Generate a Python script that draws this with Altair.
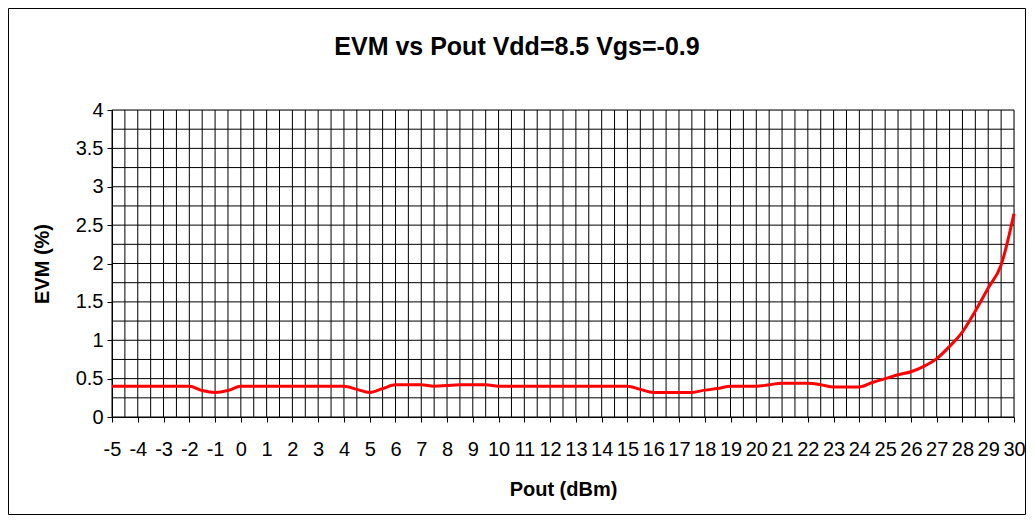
import altair as alt
import pandas as pd

chart_title = "EVM vs Pout Vdd=8.5 Vgs=-0.9"
x_title = "Pout (dBm)"
y_title = "EVM (%)"

# Pout in 0.5 dBm steps from -5 to 30
pout = [i / 2 for i in range(-10, 61)]
evm = [
    0.40, 0.40, 0.40, 0.40, 0.40, 0.40, 0.40,   # -5 .. -2
    0.345, 0.32, 0.345,                         # -1.5 .. -0.5
    0.40, 0.40, 0.40, 0.40, 0.40, 0.40, 0.40, 0.40, 0.40,  # 0 .. 4
    0.36, 0.32, 0.37,                           # 4.5 .. 5.5
    0.42, 0.42, 0.42, 0.40, 0.41, 0.42, 0.42, 0.42,  # 6 .. 9.5
    0.40, 0.40, 0.40, 0.40, 0.40, 0.40, 0.40, 0.40, 0.40, 0.40, 0.40,  # 10 .. 15
    0.36, 0.32, 0.32, 0.32, 0.32,               # 15.5 .. 17.5
    0.35, 0.37, 0.40, 0.40, 0.40,               # 18 .. 20
    0.42, 0.44, 0.44, 0.44, 0.42,               # 20.5 .. 22.5
    0.39, 0.39, 0.39,                           # 23 .. 24
    0.45, 0.50, 0.55, 0.59, 0.66, 0.76, 0.92,   # 24.5 .. 27.5
    1.11, 1.38, 1.68, 1.98, 2.65,               # 28 .. 30
]

x_ticks = list(range(-5, 31))
y_ticks = [0, 0.5, 1, 1.5, 2, 2.5, 3, 3.5, 4]
x_grid = [i / 2 for i in range(-10, 61)]
y_grid = [i / 4 for i in range(0, 17)]

FONT = "Liberation Sans"
W, H = 902, 307
PAD_L, PAD_T, PAD_R, PAD_B = 104, 102, 12, 98

xscale = alt.Scale(domain=[-5, 30], nice=False, zero=False)
yscale = alt.Scale(domain=[0, 4], nice=False)

x_axis = alt.Axis(
    values=x_ticks,
    title=x_title,
    grid=False,
    tickSize=5,
    tickColor="black",
    domainColor="black",
    labelExpr="'' + datum.value",
    labelFont=FONT,
    labelFontSize=20,
    labelColor="black",
    labelBaseline="alphabetic",
    labelPadding=33,
    labelFlush=False,
    labelOverlap=False,
    titleFont=FONT,
    titleFontSize=20,
    titleFontWeight="bold",
    titleColor="black",
    titleBaseline="alphabetic",
    titleY=78,
)
y_axis = alt.Axis(
    values=y_ticks,
    title=y_title,
    grid=False,
    tickSize=5,
    tickColor="black",
    domainColor="black",
    labelExpr="'' + datum.value",
    labelFont=FONT,
    labelFontSize=20,
    labelColor="black",
    labelPadding=4,
    labelFlush=False,
    labelOverlap=False,
    titleFont=FONT,
    titleFontSize=20,
    titleFontWeight="bold",
    titleColor="black",
    titleAngle=270,
    titleBaseline="middle",
    titleX=-70,
    titleY=H / 2,
)

df = pd.DataFrame({"pout": pout, "evm": evm})

line = alt.Chart(df).mark_line(
    color="#ff0000", strokeWidth=3, interpolate="monotone"
).encode(
    x=alt.X("pout:Q", scale=xscale, axis=x_axis),
    y=alt.Y("evm:Q", scale=yscale, axis=y_axis),
)

vgrid = alt.Chart(pd.DataFrame({"pout": x_grid})).mark_rule(
    color="black", strokeWidth=1
).encode(x=alt.X("pout:Q", scale=xscale, axis=x_axis))

hgrid = alt.Chart(pd.DataFrame({"evm": y_grid})).mark_rule(
    color="black", strokeWidth=1
).encode(y=alt.Y("evm:Q", scale=yscale, axis=y_axis))

title_df = pd.DataFrame({"t": [chart_title]})
title_mark = alt.Chart(title_df).mark_text(
    font=FONT, fontSize=25, fontWeight="bold", color="black",
    align="center", baseline="alphabetic"
).encode(text="t:N", x=alt.value(405), y=alt.value(-55))

frame = alt.Chart(pd.DataFrame({"f": [0]})).mark_rect(
    filled=False, stroke="black", strokeWidth=1, clip=False
).encode(
    x=alt.value(0.5 - PAD_L), x2=alt.value(W + PAD_R - 0.5),
    y=alt.value(0.5 - PAD_T), y2=alt.value(H + PAD_B - 0.5),
)

chart = alt.layer(vgrid, hgrid, line, title_mark, frame).properties(
    width=W,
    height=H,
    autosize=alt.AutoSizeParams(type="none"),
    padding={"left": PAD_L, "top": PAD_T, "right": PAD_R, "bottom": PAD_B},
).configure_view(stroke="black", strokeWidth=1).configure(background="white")

chart.save("out.html", embed_options={"renderer": "svg", "actions": False})
